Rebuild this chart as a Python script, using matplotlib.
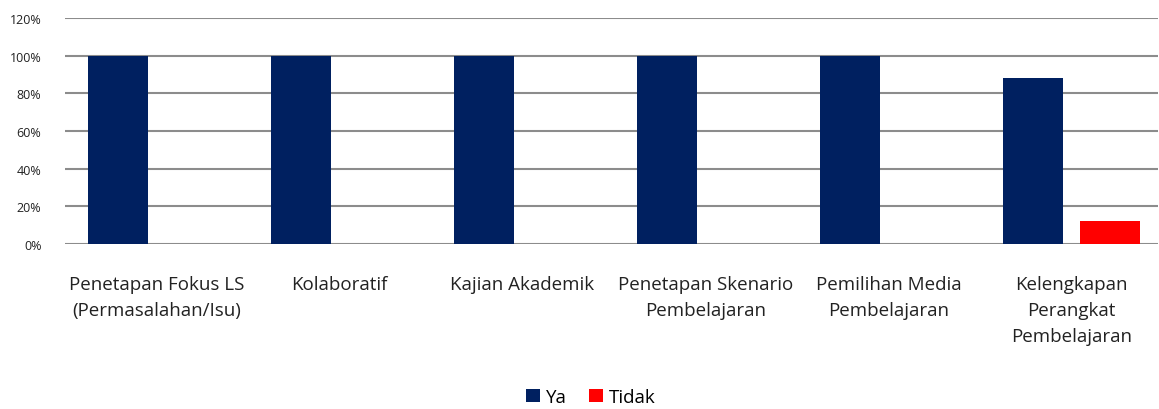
import numpy as np
import matplotlib
matplotlib.use("Agg")
import matplotlib.pyplot as plt
from matplotlib.ticker import PercentFormatter

categories = [
    "Penetapan Fokus LS\n(Permasalahan/Isu)",
    "Kolaboratif",
    "Kajian Akademik",
    "Penetapan Skenario\nPembelajaran",
    "Pemilihan Media\nPembelajaran",
    "Kelengkapan\nPerangkat\nPembelajaran",
]
ya = [100, 100, 100, 100, 100, 88]
tidak = [0, 0, 0, 0, 0, 12]
yticks = [0, 20, 40, 60, 80, 100, 120]

plt.rcParams["font.family"] = ["Open Sans", "DejaVu Sans"]

fig = plt.figure(figsize=(11.59, 4.10), dpi=100)
ax = fig.add_axes([65 / 1159, 1 - 245 / 410, 1093 / 1159, 226 / 410])

x = np.arange(len(categories))
w = 0.328
off = 0.208
ax.bar(x - off, ya, width=w, color="#002060", label="Ya", zorder=3)
ax.bar(x + off, tidak, width=w, color="#FF0000", label="Tidak", zorder=3)

ax.set_ylim(0, 120)
ax.set_xlim(-0.5, 5.5 - 5 / 183)
ax.set_yticks(yticks)
ax.yaxis.set_major_formatter(PercentFormatter(decimals=0))
ax.grid(axis="y", color="#8c8c8c", linewidth=1.5, zorder=0)
ax.set_axisbelow(True)
for s in ax.spines.values():
    s.set_visible(False)
ax.tick_params(axis="y", length=0, pad=17, labelsize=9)
ax.set_xticks(x)
ax.set_xticklabels(categories, fontsize=13.5, color="#222222", va="top",
                   linespacing=1.6)
ax.tick_params(axis="x", length=0, pad=22)
for lbl in ax.get_yticklabels():
    lbl.set_color("#222222")

fig.legend(*ax.get_legend_handles_labels(), loc="center",
           bbox_to_anchor=(591 / 1159, 1 - 398 / 410), ncol=2, frameon=False,
           fontsize=13.5, handlelength=0.75, handleheight=0.75, handletextpad=0.3,
           columnspacing=1.2, borderpad=0.1)

fig.savefig("out.png", dpi=100)
